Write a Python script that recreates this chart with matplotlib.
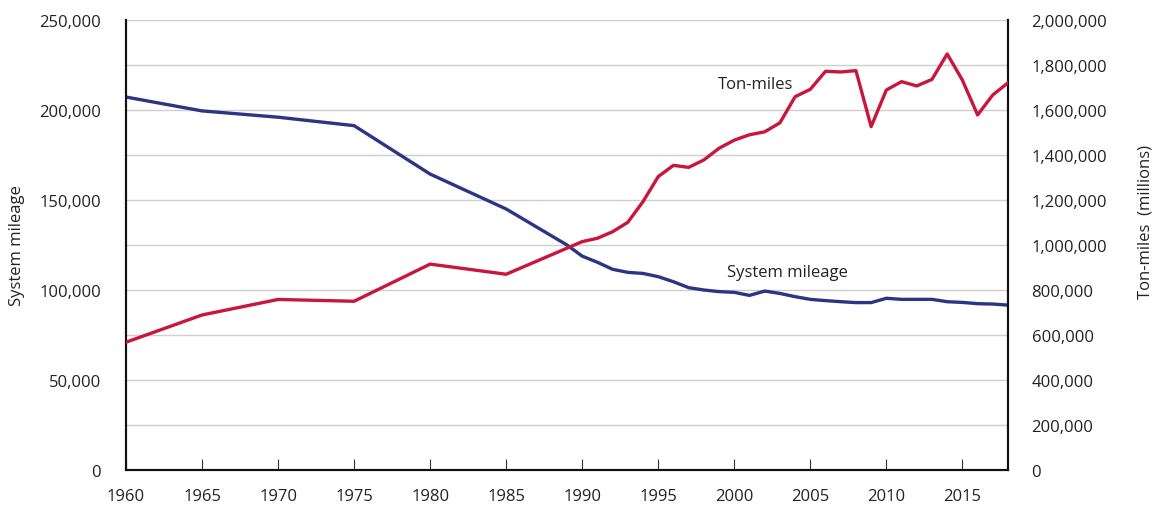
import matplotlib
matplotlib.use("Agg")
import matplotlib.pyplot as plt
from matplotlib.ticker import FuncFormatter, MultipleLocator

plt.rcParams['font.family'] = ['Open Sans', 'DejaVu Sans']

mileage_years = [1960, 1965, 1970, 1975, 1980, 1985, 1989, 1990, 1991, 1992, 1993, 1994,
                 1995, 1996, 1997, 1998, 1999, 2000, 2001, 2002, 2003, 2004, 2005, 2006,
                 2007, 2008, 2009, 2010, 2011, 2012, 2013, 2014, 2015, 2016, 2017, 2018]
system_mileage = [207200, 199500, 196000, 191300, 164400, 145000, 125000, 118800, 115400,
                  111500, 109800, 109200, 107400, 104600, 101300, 100000, 99100, 98700,
                  97000, 99400, 98100, 96300, 94800, 94100, 93500, 93000, 93000, 95400,
                  94800, 94800, 94800, 93500, 93100, 92400, 92200, 91600]

ton_years = [1960, 1965, 1970, 1975, 1980, 1985, 1990, 1991, 1992, 1993, 1994, 1995, 1996,
             1997, 1998, 1999, 2000, 2001, 2002, 2003, 2004, 2005, 2006, 2007, 2008, 2009,
             2010, 2011, 2012, 2013, 2014, 2015, 2016, 2017, 2018]
ton_miles = [568000, 689000, 758000, 750000, 915000, 870000, 1015000, 1030000, 1059000,
             1101000, 1193000, 1304000, 1354000, 1345000, 1378000, 1430000, 1466000,
             1490000, 1503000, 1543000, 1659000, 1692000, 1772000, 1769000, 1775000,
             1526000, 1689000, 1726000, 1707000, 1736000, 1849000, 1733000, 1578000,
             1667000, 1721000]

x_ticks = [1960, 1965, 1970, 1975, 1980, 1985, 1990, 1995, 2000, 2005, 2010, 2015]

BLUE = '#2b3584'
RED = '#c8163c'
TXT = '#222222'
FS = 12

fig = plt.figure(figsize=(11.56, 5.06), dpi=100)
ax = fig.add_axes([126/1156, 35/506, (1008-126)/1156, 450/506])
ax2 = ax.twinx()

ax.plot(mileage_years, system_mileage, color=BLUE, lw=2.4, solid_joinstyle='round', zorder=3)
ax2.plot(ton_years, ton_miles, color=RED, lw=2.4, solid_joinstyle='round', zorder=3)

ax.set_xlim(1960, 2018)
ax.set_ylim(0, 250000)
ax2.set_ylim(0, 2000000)

ax.yaxis.set_major_locator(MultipleLocator(50000))
ax.yaxis.set_minor_locator(MultipleLocator(25000))
ax2.yaxis.set_major_locator(MultipleLocator(200000))
ax.set_xticks(x_ticks)

fmt = FuncFormatter(lambda v, p: f"{int(v):,}")
ax.yaxis.set_major_formatter(fmt)
ax2.yaxis.set_major_formatter(fmt)

ax.grid(axis='y', which='both', color='#cfcfcf', lw=1.0)
ax.set_axisbelow(True)

for a in (ax, ax2):
    a.spines['top'].set_visible(False)
    for s in ('left', 'right', 'bottom'):
        a.spines[s].set_color('#111111')
        a.spines[s].set_linewidth(1.5)

ax.tick_params(axis='y', which='both', length=0, labelcolor=TXT, labelsize=FS, pad=18)
ax.tick_params(axis='x', direction='in', length=8, width=0.8, color='#333333',
               labelcolor=TXT, labelsize=FS, pad=13)
ax2.tick_params(axis='y', length=0, labelcolor=TXT, labelsize=FS, pad=17)

ax.set_ylabel('System mileage', fontsize=FS, color=TXT, labelpad=10)
fig.text(1146/1156, 1 - 222/506, 'Ton-miles  (millions)', fontsize=FS, color=TXT,
         rotation=90, ha='center', va='center')

ax2.text(2001.4, 1715000, 'Ton-miles', fontsize=FS, color=TXT, ha='center', va='center')
ax.text(2003.5, 110000, 'System mileage', fontsize=FS, color=TXT, ha='center', va='center')

fig.savefig('out.png', dpi=100)
